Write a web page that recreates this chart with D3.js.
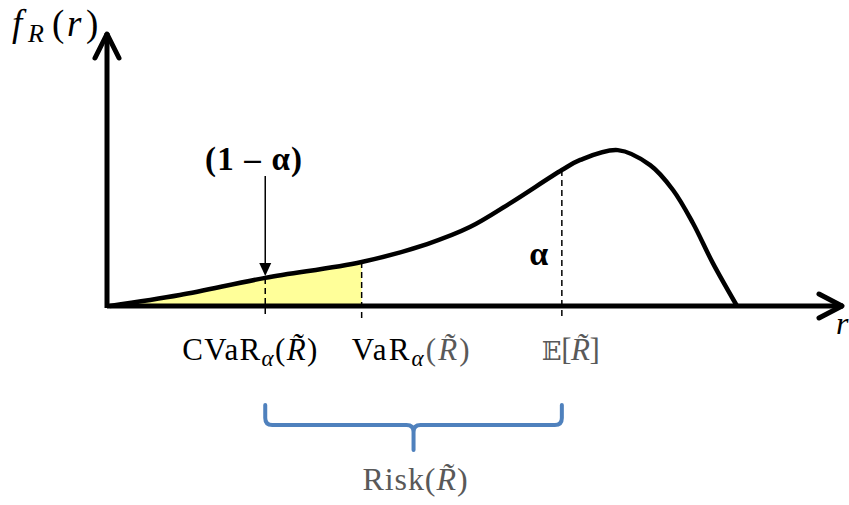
<!DOCTYPE html>
<html>
<head>
<meta charset="utf-8">
<script src="https://cdn.jsdelivr.net/npm/d3@7"></script>
<style>
  body { margin: 0; background: #fff; }
  svg { display: block; }
  text { font-family: "Liberation Serif", "DejaVu Serif", serif; }
</style>
</head>
<body>
<svg id="chart" width="849" height="505"></svg>
<script>
// density curve (r in 0..100, f in 0..100)
const rVals = [0.4, 9.9, 21.5, 34.6, 43.5, 49.3, 54.8, 61.8, 64.3, 69.4, 73.8, 76.9, 79.6, 82.3, 85.6];
const fVals = [0, 4.0, 10.3, 16.1, 22.7, 28.9, 37.7, 49.8, 53.5, 57.1, 51.6, 42.5, 30.4, 15.8, 0];

// marked points on r
const markerNames = ['CVaR', 'VaR', 'E'];
const markerR = [21.5, 34.6, 61.8];

const rMax = 100, fMax = 100;

const svg = d3.select('#chart');
const x = d3.scaleLinear().domain([0, rMax]).range([107, 843]);
const y = d3.scaleLinear().domain([0, fMax]).range([306, 33]);

const pts = rVals.map((r, i) => ({r, f: fVals[i]}));
const curve = d3.curveCatmullRom.alpha(0.5);

// f at a given r, by sampling the drawn path
const linePath = d3.line().x(d => x(d.r)).y(d => y(d.f)).curve(curve);
const tmp = svg.append('path').attr('d', linePath(pts)).attr('fill', 'none');
const pathEl = tmp.node();
const totalLen = pathEl.getTotalLength();
function yAt(px) {
    let lo = 0, hi = totalLen;
    for (let k = 0; k < 40; k++) {
        const mid = (lo + hi) / 2;
        if (pathEl.getPointAtLength(mid).x < px) lo = mid; else hi = mid;
    }
    return pathEl.getPointAtLength(lo).y;
}
tmp.remove();

// yellow tail area up to VaR
const varR = markerR[1];
const tail = [];
for (let px = x(rVals[0]); px <= x(varR); px += 1) tail.push([px, yAt(px)]);
tail.push([x(varR), yAt(x(varR))]);
const areaGen = d3.area().x(d => d[0]).y0(y(0)).y1(d => d[1]);
svg.append('path')
    .attr('d', areaGen(tail))
    .attr('fill', '#ffff99');

// dashed marker lines
markerR.forEach(r => {
    svg.append('line')
        .attr('x1', x(r)).attr('x2', x(r))
        .attr('y1', yAt(x(r))).attr('y2', y(0) + 12)
        .attr('stroke', '#000')
        .attr('stroke-width', 1.5)
        .attr('stroke-dasharray', '6,4');
});

// curve
svg.append('path')
    .attr('d', linePath(pts))
    .attr('fill', 'none')
    .attr('stroke', '#000')
    .attr('stroke-width', 4.5)
    .attr('stroke-linejoin', 'round');

// axes with open arrowheads
const axisG = svg.append('g')
    .attr('stroke', '#000')
    .attr('stroke-width', 5)
    .attr('fill', 'none')
    .attr('stroke-linecap', 'round')
    .attr('stroke-linejoin', 'round');
axisG.append('path')
    .attr('d', `M${x(0)},${y(0)}H${x(rMax)}`)
    .attr('stroke-linecap', 'butt');
axisG.append('path')
    .attr('d', `M${x(0)},${y(0) + 2}V${y(fMax)}`)
    .attr('stroke-linecap', 'butt');
axisG.append('path')
    .attr('d', `M${x(rMax) - 24},${y(0) - 12}L${x(rMax) - 1},${y(0)}L${x(rMax) - 24},${y(0) + 12}`);
axisG.append('path')
    .attr('d', `M${x(0) - 12},${y(fMax) + 25}L${x(0)},${y(fMax) + 1}L${x(0) + 12},${y(fMax) + 25}`);

// axis titles
const fl = svg.append('text').attr('y', 36).attr('font-size', 37).attr('fill', '#000');
fl.append('tspan').attr('x', 12).attr('font-style', 'italic').text('f');
fl.append('tspan').attr('x', 28).attr('font-style', 'italic').attr('font-size', 26).attr('dy', 6).text('R');
fl.append('tspan').attr('x', 52).attr('dy', -6).text('(');
fl.append('tspan').attr('x', 67).attr('font-style', 'italic').text('r');
fl.append('tspan').attr('x', 86).text(')');

svg.append('text')
    .attr('x', 836).attr('y', 334)
    .attr('font-size', 32).attr('font-style', 'italic')
    .text('r');

// (1 - alpha) annotation with arrow
const cvarX = x(markerR[0]);
const cvarY = yAt(cvarX);
svg.append('text')
    .attr('x', 205).attr('y', 170)
    .attr('font-size', 33).attr('font-weight', 'bold')
    .attr('textLength', 97).attr('lengthAdjust', 'spacing')
    .text('(1 \u2013 \u03b1)');
svg.append('line')
    .attr('x1', cvarX).attr('x2', cvarX)
    .attr('y1', 176).attr('y2', cvarY - 14)
    .attr('stroke', '#000').attr('stroke-width', 1.5);
svg.append('path')
    .attr('d', `M${cvarX - 6},${cvarY - 15}L${cvarX + 6},${cvarY - 15}L${cvarX},${cvarY - 2}Z`)
    .attr('fill', '#000');

svg.append('text')
    .attr('x', x(markerR[2]) - 23).attr('y', 265)
    .attr('text-anchor', 'middle')
    .attr('font-family', 'DejaVu Sans')
    .attr('font-size', 34).attr('font-weight', 'bold')
    .text('\u03b1');

// marker labels
const labelY = 360;
const RT = 'R\u0303';
function riskLabel(g, xPos, width, main, sub, argColor) {
    const t = g.append('text').attr('x', xPos).attr('y', labelY).attr('font-size', 31).attr('fill', '#000')
        .attr('textLength', width).attr('lengthAdjust', 'spacing');
    t.append('tspan').text(main);
    t.append('tspan').attr('font-style', 'italic').attr('font-size', 23).attr('dy', 6).text(sub);
    t.append('tspan').attr('dy', -6).attr('fill', argColor).text('(');
    t.append('tspan').attr('fill', argColor).attr('font-style', 'italic').text(RT);
    t.append('tspan').attr('fill', argColor).text(')');
}
riskLabel(svg, x(markerR[0]) - 83, 135, 'CVaR', '\u03b1', '#000');
riskLabel(svg, x(markerR[1]) - 10, 118, 'VaR', '\u03b1', '#595959');

const eT = svg.append('text').attr('x', x(markerR[2]) - 20).attr('y', labelY).attr('font-size', 31).attr('fill', '#595959')
    .attr('textLength', 58).attr('lengthAdjust', 'spacing');
eT.append('tspan').attr('font-family', 'DejaVu Serif, DejaVu Sans').attr('font-size', 26).text('\ud835\udd3c');
eT.append('tspan').text('[');
eT.append('tspan').attr('font-style', 'italic').text(RT);
eT.append('tspan').text(']');

// blue brace spanning CVaR .. E
const bx0 = x(markerR[0]), bx1 = x(markerR[2]);
const bm = (bx0 + bx1) / 2;
const bTop = 405, bMid = 425, bTip = 450;
svg.append('path')
    .attr('d', `M${bx0},${bTop}V${bMid - 7}Q${bx0},${bMid} ${bx0 + 7},${bMid}` +
        `H${bm - 7}Q${bm},${bMid} ${bm},${bMid + 7}V${bTip}` +
        `M${bm},${bMid + 7}Q${bm},${bMid} ${bm + 7},${bMid}` +
        `H${bx1 - 7}Q${bx1},${bMid} ${bx1},${bMid - 7}V${bTop}`)
    .attr('fill', 'none')
    .attr('stroke', '#4f81bd')
    .attr('stroke-width', 4)
    .attr('stroke-linecap', 'round');

const rk = svg.append('text').attr('x', bm - 51).attr('y', 490)
    .attr('font-size', 32).attr('fill', '#595959')
    .attr('textLength', 105).attr('lengthAdjust', 'spacing');
rk.append('tspan').text('Risk(');
rk.append('tspan').attr('font-style', 'italic').text(RT);
rk.append('tspan').text(')');
</script>
</body>
</html>
